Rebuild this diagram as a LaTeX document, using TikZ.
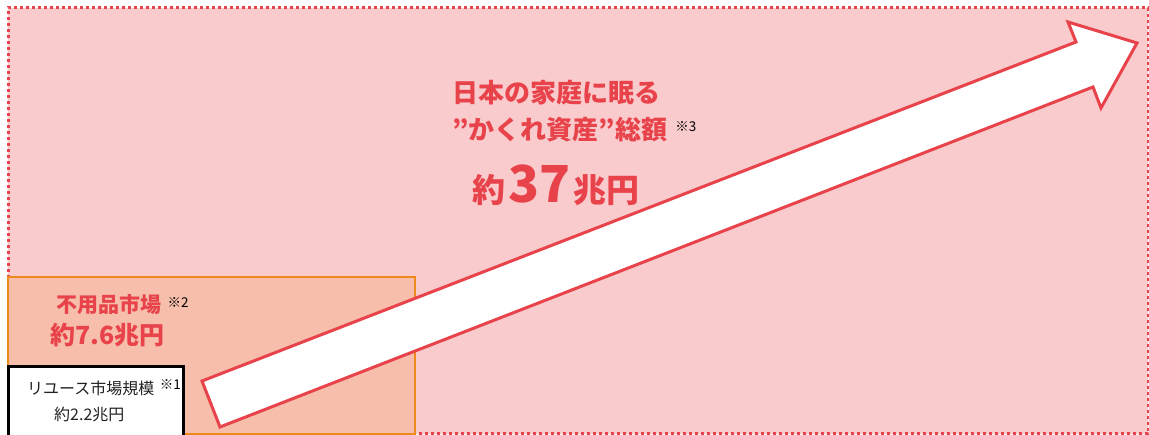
\documentclass[tikz,border=0pt]{standalone}
\usepackage{fontspec}
\setmainfont{Noto Sans CJK JP}
\usetikzlibrary{positioning}
\definecolor{bgpink}{HTML}{F9CBCD}
\definecolor{boxpeach}{HTML}{F6BEAB}
\definecolor{edgeorange}{HTML}{EE8A1C}
\definecolor{hotred}{HTML}{E8434A}
\definecolor{inkgray}{HTML}{222222}

\begin{document}
\begin{tikzpicture}[x=1pt,y=-1pt,
  redtxt/.style={text=hotred,inner sep=0pt,anchor=west},
  note/.style={font=\fontsize{13.5}{14}\selectfont,inner sep=0pt,anchor=west},
  plaintxt/.style={text=inkgray,font=\fontsize{16}{17}\selectfont,inner sep=0pt,anchor=west}]
\useasboundingbox (0,0) rectangle (1149,435);
% areas
\fill[bgpink] (8,8) rectangle (1148,434);
\draw[hotred,line width=3pt,dash pattern=on 3pt off 3pt] (8,434) -- (8,8) -- (1148,8) -- (1148,434) -- cycle;
\draw[edgeorange,fill=boxpeach,line width=2.5pt] (8,277) rectangle (415,434);
\draw[black,fill=white,line width=3pt] (8,367) rectangle (183,437);
% arrow
\coordinate (tailA) at (202,381);
\coordinate (tailB) at (220,427);
\coordinate (tip) at (1137,43);
\draw[hotred,fill=white,line width=3pt,line join=miter]
  (tailA) -- (1076,42) -- (1068,22) -- (tip) -- (1101,108) -- (1093,87) -- (tailB) -- cycle;
% headline
\node[redtxt,font=\bfseries\fontsize{26}{27}\selectfont] (hl1) at (452,93) {日本の家庭に眠る};
\node[redtxt,font=\bfseries\fontsize{26}{27}\selectfont] (hl2) at (452,130) {”かくれ資産”総額};
\node[note] (n3) at ([xshift=8pt,yshift=3pt]hl2.east) {※3};
\node[redtxt,font=\bfseries\fontsize{33}{34}\selectfont] (total) at (472,185)
  {約\hspace{3pt}{\fontsize{51}{51}\selectfont 37}\hspace{3pt}兆円};
% unused goods market
\node[redtxt,font=\bfseries\fontsize{21}{22}\selectfont] (fuyo) at (56,305) {不用品市場};
\node[note] (n2) at ([xshift=6pt,yshift=2pt]fuyo.east) {※2};
\node[redtxt,font=\bfseries\fontsize{25}{26}\selectfont] (fuyoval) at (50,335) {約7.6兆円};
% reuse market
\node[plaintxt] (reuse) at (27,388) {リユース市場規模};
\node[note] (n1) at ([xshift=5pt,yshift=3pt]reuse.east) {※1};
\node[plaintxt] (reuseval) at (54,414) {約2.2兆円};
\end{tikzpicture}
\end{document}
